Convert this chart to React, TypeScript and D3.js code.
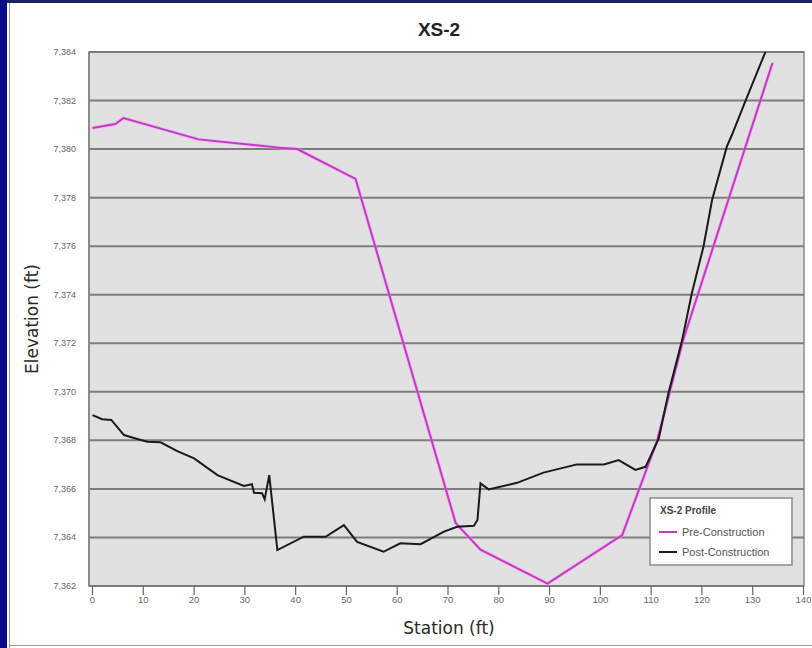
import React from "react";
import * as d3 from "d3";

const preStation = [0, 4.5, 6.1, 20.9, 37.6, 40.3, 51.8, 71.5, 76.4, 89.6, 104.3, 111.2, 116.3, 133.9];
const preElev = [7380.87, 7381.03, 7381.28, 7380.4, 7380.04, 7380.0, 7378.77, 7364.6, 7363.5, 7362.1, 7364.1, 7368.0, 7372.13, 7383.55];

const postStation = [0, 1.9, 3.7, 6.2, 7.8, 10.8, 13.4, 16.7, 20.0, 24.6, 29.8, 31.4, 31.8, 33.4, 33.9, 34.8, 36.4, 41.6, 45.9, 49.5, 52.1, 57.3, 60.6, 64.6, 69.2, 71.8, 75.1, 75.8, 76.4, 78.0, 83.6, 88.8, 95.4, 100.7, 103.6, 106.9, 108.9, 111.5, 113.4, 116.1, 118.0, 120.3, 122.0, 124.9, 125.9, 128.5, 132.5];
const postElev = [7369.04, 7368.87, 7368.84, 7368.22, 7368.12, 7367.94, 7367.92, 7367.56, 7367.26, 7366.57, 7366.12, 7366.19, 7365.84, 7365.82, 7365.57, 7366.57, 7363.48, 7364.03, 7364.03, 7364.51, 7363.82, 7363.41, 7363.76, 7363.72, 7364.24, 7364.44, 7364.48, 7364.72, 7366.23, 7365.98, 7366.25, 7366.67, 7367.01, 7367.01, 7367.19, 7366.78, 7366.91, 7368.08, 7369.94, 7372.13, 7374.05, 7375.98, 7377.9, 7380.1, 7380.58, 7381.95, 7384.0];

const xTicks = [0, 10, 20, 30, 40, 50, 60, 70, 80, 90, 100, 110, 120, 130, 140];
const yTicks = [7362, 7364, 7366, 7368, 7370, 7372, 7374, 7376, 7378, 7380, 7382, 7384];

const seriesNames = ["Pre-Construction", "Post-Construction"];
const seriesColors = ["#c936c9", "#1a1a1a"];

export default function App() {
  const W = 812, H = 648;
  const left = 89, right = 804, top = 52, bottom = 586;
  const x = d3.scaleLinear().domain([0, 140]).range([92.5, 803.5]);
  const y = d3.scaleLinear().domain([7362, 7384]).range([bottom, top]);
  const fmt = d3.format(",");
  const line = d3.line<[number, number]>().x(d => x(d[0])).y(d => y(d[1]));
  const pre: [number, number][] = preStation.map((s, i) => [s, preElev[i]]);
  const post: [number, number][] = postStation.map((s, i) => [s, postElev[i]]);
  const font = "'Liberation Sans', Arial, sans-serif";

  return (
    <svg width={W} height={H} style={{ position: "absolute", left: 0, top: 0, background: "#fff" }}>
      <rect x={0} y={0} width={W} height={H} fill="#fff" />
      <rect x={0} y={0} width={W} height={3} fill="#1a2260" />
      <rect x={0} y={0} width={7} height={H} fill="#0b0b8a" />
      <line x1={9.5} x2={9.5} y1={3} y2={H} stroke="#9a9a9a" strokeWidth={1} />
      <line x1={9} x2={W} y1={645.5} y2={645.5} stroke="#9a9a9a" strokeWidth={1} />

      <text x={439} y={36} textAnchor="middle" fontFamily="'Liberation Sans Narrow', 'Arial Narrow', Arial, sans-serif" fontWeight="bold" fontSize={19} fill="#222">XS-2</text>

      <defs>
        <clipPath id="plotclip">
          <rect x={left} y={top} width={right - left} height={bottom - top} />
        </clipPath>
      </defs>
      <rect x={left} y={top} width={right - left} height={bottom - top} fill="#e1e1e1" stroke="#8a8a8a" strokeWidth={1.5} />
      {yTicks.map(t => (
        <line key={"g" + t} x1={left} x2={right} y1={y(t)} y2={y(t)} stroke="#7c7c7c" strokeWidth={2} />
      ))}
      <line x1={left} x2={left} y1={top} y2={bottom} stroke="#8a8a8a" strokeWidth={2} />

      {yTicks.map(t => (
        <text key={"yl" + t} x={76} y={y(t) + 3} textAnchor="end" fontFamily={font} fontSize={9} fill="#666">{fmt(t)}</text>
      ))}
      {xTicks.map(t => (
        <g key={"xt" + t}>
          <line x1={x(t)} x2={x(t)} y1={bottom} y2={bottom + 9} stroke="#666" strokeWidth={1.2} />
          <text x={x(t)} y={bottom + 17} textAnchor="middle" fontFamily={font} fontSize={9.5} fill="#666">{t}</text>
        </g>
      ))}

      <g clipPath="url(#plotclip)">
        <path d={line(pre) || ""} fill="none" stroke="#f0a0f0" strokeWidth={3.5} opacity={0.5} />
        <path d={line(pre) || ""} fill="none" stroke={seriesColors[0]} strokeWidth={2} />
        <path d={line(post) || ""} fill="none" stroke={seriesColors[1]} strokeWidth={2} />
      </g>

      <text x={449} y={634} textAnchor="middle" fontFamily="'DejaVu Sans', Verdana, sans-serif" fontSize={17} fill="#2a2a2a">Station (ft)</text>
      <text transform="translate(38,319) rotate(-90)" textAnchor="middle" fontFamily="'DejaVu Sans', Verdana, sans-serif" fontSize={17} fill="#2a2a2a">Elevation (ft)</text>

      <g>
        <rect x={650} y={498} width={142} height={67} fill="#fff" stroke="#8a8a8a" strokeWidth={1.5} />
        <text x={660} y={514} fontFamily={font} fontWeight="bold" fontSize={10} fill="#444">XS-2 Profile</text>
        {seriesNames.map((n, i) => (
          <g key={n}>
            <line x1={659} x2={677} y1={532 + i * 20} y2={532 + i * 20} stroke={seriesColors[i]} strokeWidth={2} />
            <text x={682} y={536 + i * 20} fontFamily={font} fontSize={11} fill="#555">{n}</text>
          </g>
        ))}
      </g>
    </svg>
  );
}
